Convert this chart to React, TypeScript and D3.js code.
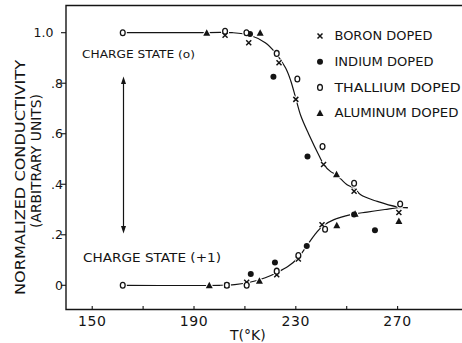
import React from "react";
import * as d3 from "d3";

// Temperature (°K) and normalized conductivity readings per dopant
const boronT = [202.2, 211.5, 223.4, 230, 240.9, 252.9, 270.5, 202.9, 210.7, 222.5, 231, 240.3];
const boronV = [0.99, 0.96, 0.881, 0.736, 0.478, 0.372, 0.288, 0.0, 0.012, 0.042, 0.104, 0.24];

const indiumT = [212, 221.2, 234.6, 212.3, 221.8, 234.3, 252.9, 261.1];
const indiumV = [0.995, 0.826, 0.51, 0.045, 0.09, 0.156, 0.28, 0.218];

const thalliumT = [162, 202.2, 210.6, 222.5, 230.6, 240.5, 252.9, 271, 162, 202.9, 210.7, 222.5, 231, 241.5];
const thalliumV = [1.0, 1.006, 1.0, 0.918, 0.817, 0.549, 0.404, 0.322, 0.0, 0.0, 0.0, 0.056, 0.118, 0.222];

const aluminumT = [195, 216, 246, 196, 215.7, 246.1, 253.3, 270.5];
const aluminumV = [1.0, 1.0, 0.44, 0.0, 0.018, 0.238, 0.283, 0.255];

// Hand-drawn trend curves for each charge state
const upperT = [163, 190, 205, 212, 218, 222, 226, 228, 230, 232, 235, 239.3, 241, 243.7, 246, 250.3, 253, 255.5, 262, 270, 274];
const upperV = [1.0, 1.0, 1.0, 0.99, 0.96, 0.92, 0.86, 0.81, 0.74, 0.67, 0.6, 0.51, 0.478, 0.45, 0.437, 0.397, 0.385, 0.358, 0.332, 0.31, 0.306];
const lowerT = [163, 200, 206, 212.3, 218, 222.5, 227, 231, 234.3, 237.4, 240.6, 245, 251.6, 258, 265, 270, 274];
const lowerV = [0.0, 0.0, 0.003, 0.013, 0.03, 0.05, 0.075, 0.11, 0.156, 0.2, 0.235, 0.26, 0.28, 0.29, 0.3, 0.307, 0.308];

const xTicks = [150, 170, 190, 210, 230, 250, 270];
const xTickLabels = ["150", "", "190", "", "230", "", "270"];
const yTicks = [0, 0.2, 0.4, 0.6, 0.8, 1.0];
const yTickLabels = ["0", ".2", ".4", ".6", ".8", "1.0"];

const legendNames = ["BORON DOPED", "INDIUM DOPED", "THALLIUM DOPED", "ALUMINUM DOPED"];
const legendWidths = [98, 99, 126, 124];

const W = 462;
const H = 343;
const INK = "#141414";
const FONT = "'DejaVu Sans', 'Liberation Sans', sans-serif";

type Kind = "x" | "dot" | "o" | "tri";

function Marker({ kind, cx, cy, halo }: { kind: Kind; cx: number; cy: number; halo?: boolean }) {
  const stroke = halo ? "#fff" : INK;
  const extra = halo ? 2.2 : 0;
  if (kind === "x") {
    const s = 2.5;
    return (
      <path
        d={`M${cx - s},${cy - s}L${cx + s},${cy + s}M${cx + s},${cy - s}L${cx - s},${cy + s}`}
        stroke={stroke}
        strokeWidth={1.5 + extra}
        fill="none"
      />
    );
  }
  if (kind === "dot") {
    return <circle cx={cx} cy={cy} r={3} fill={halo ? "#fff" : INK} stroke={halo ? "#fff" : "none"} strokeWidth={extra} />;
  }
  if (kind === "o") {
    return <ellipse cx={cx} cy={cy} rx={2.4} ry={2.9} fill="#fff" stroke={stroke} strokeWidth={1.3 + extra} />;
  }
  const h = 6;
  const w = 7;
  return (
    <path
      d={`M${cx},${cy - h / 2 - 0.5}L${cx + w / 2},${cy + h / 2}L${cx - w / 2},${cy + h / 2}Z`}
      fill={halo ? "#fff" : INK}
      stroke={halo ? "#fff" : "none"}
      strokeWidth={extra}
    />
  );
}

export default function App() {
  const x = d3.scaleLinear().domain([139.7, 295.3]).range([66, 462]);
  const y = d3.scaleLinear().domain([0, 1]).range([285.3, 32.7]);

  const left = 66;
  const top = 5.5;
  const bottom = 309.5;

  const line = d3
    .line<[number, number]>()
    .x((d) => x(d[0]))
    .y((d) => y(d[1]))
    .curve(d3.curveCatmullRom.alpha(0.5));

  const upper = upperT.map((t, i) => [t, upperV[i]] as [number, number]);
  const lower = lowerT.map((t, i) => [t, lowerV[i]] as [number, number]);

  const series: { kind: Kind; t: number[]; v: number[] }[] = [
    { kind: "x", t: boronT, v: boronV },
    { kind: "dot", t: indiumT, v: indiumV },
    { kind: "o", t: thalliumT, v: thalliumV },
    { kind: "tri", t: aluminumT, v: aluminumV },
  ];
  const legendKinds: Kind[] = ["x", "dot", "o", "tri"];

  const pts = series.flatMap((s) => s.t.map((t, i) => ({ kind: s.kind, cx: x(t), cy: y(s.v[i]) })));

  return (
    <svg
      width={W}
      height={H}
      viewBox={`0 0 ${W} ${H}`}
      style={{ position: "absolute", left: 0, top: 0, background: "#fff" }}
      fontFamily={FONT}
    >
      <rect width={W} height={H} fill="#fff" />

      {/* frame */}
      <path d={`M${W},${top}H${left}V${bottom}H${W}`} fill="none" stroke={INK} strokeWidth={1.4} />

      {/* x ticks (inward) and labels */}
      {xTicks.map((t, i) => (
        <g key={t}>
          <line x1={x(t)} x2={x(t)} y1={bottom} y2={bottom - 3.5} stroke={INK} strokeWidth={1.1} />
          {xTickLabels[i] && (
            <text x={x(t)} y={325.5} textAnchor="middle" fontSize={14} letterSpacing={0.6} fill={INK}>
              {xTickLabels[i]}
            </text>
          )}
        </g>
      ))}
      <text x={230} y={340} fontSize={14} fill={INK}>
        T(°K)
      </text>

      {/* y ticks (outward) and labels */}
      {yTicks.map((v, i) => (
        <g key={v}>
          <line x1={left - 5} x2={left} y1={y(v)} y2={y(v)} stroke={INK} strokeWidth={1.1} />
          <text
            x={yTickLabels[i] === "1.0" ? 53.5 : 63}
            y={y(v) + 4.5}
            textAnchor="end"
            fontSize={12.5}
            fill={INK}
          >
            {yTickLabels[i]}
          </text>
        </g>
      ))}
      <text
        transform="translate(24.5,177.5) rotate(-90)"
        textAnchor="middle"
        fontSize={14}
        textLength={235}
        lengthAdjust="spacingAndGlyphs"
        fill={INK}
      >
        NORMALIZED CONDUCTIVITY
      </text>
      <text
        transform="translate(40.5,161) rotate(-90)"
        textAnchor="middle"
        fontSize={14}
        textLength={134}
        lengthAdjust="spacingAndGlyphs"
        fill={INK}
      >
        (ARBITRARY UNITS)
      </text>

      {/* charge-state annotations */}
      <text x={82} y={57.5} fontSize={10.5} textLength={113} lengthAdjust="spacingAndGlyphs" fill={INK}>
        CHARGE STATE (o)
      </text>
      <text x={83} y={261.5} fontSize={11.5} textLength={138} lengthAdjust="spacingAndGlyphs" fill={INK}>
        CHARGE STATE (+1)
      </text>
      <line x1={123.5} x2={123.5} y1={82} y2={228} stroke={INK} strokeWidth={1.2} />
      <path d="M123.5,76.5L121,84L126,84Z" fill={INK} />
      <path d="M123.5,233.5L121,226L126,226Z" fill={INK} />

      {/* trend curves */}
      <path d={line(upper) ?? ""} fill="none" stroke={INK} strokeWidth={1.2} />
      <path d={line(lower) ?? ""} fill="none" stroke={INK} strokeWidth={1.2} />

      {/* data markers: white halos first, then ink */}
      {pts.map((p, i) => (
        <Marker key={`h${i}`} kind={p.kind} cx={p.cx} cy={p.cy} halo />
      ))}
      {pts.map((p, i) => (
        <Marker key={`m${i}`} kind={p.kind} cx={p.cx} cy={p.cy} />
      ))}

      {/* legend */}
      {legendNames.map((name, i) => {
        const ly = 36 + i * 25.7;
        return (
          <g key={name}>
            <Marker kind={legendKinds[i]} cx={320} cy={ly} />
            <text
              x={334.5}
              y={ly + 4.3}
              fontSize={11.5}
              textLength={legendWidths[i]}
              lengthAdjust="spacingAndGlyphs"
              fill={INK}
            >
              {name}
            </text>
          </g>
        );
      })}
    </svg>
  );
}
